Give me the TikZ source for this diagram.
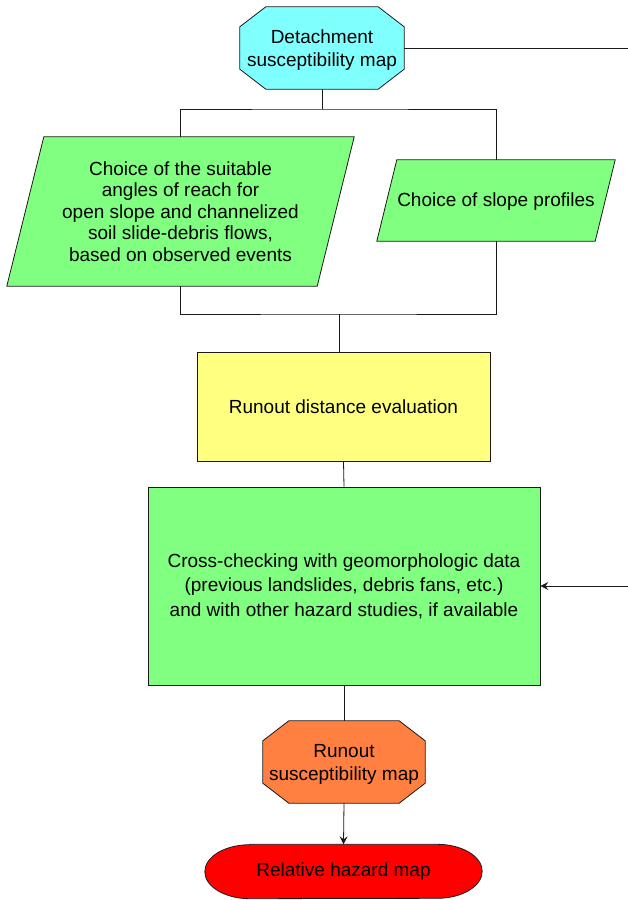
\documentclass[tikz,border=0pt]{standalone}
\usepackage{fontspec}
\setmainfont{Liberation Sans}
\usetikzlibrary{arrows.meta,backgrounds}
\definecolor{cyanbox}{HTML}{80FFFF}
\definecolor{greenbox}{HTML}{80FF80}
\definecolor{yellowbox}{HTML}{FFFF80}
\definecolor{orangebox}{HTML}{FF8040}
\definecolor{redbox}{HTML}{FF0000}
\definecolor{edge}{HTML}{1A1A1A}
\newcommand\octoshape[2]{%
 \draw[base,fill=#2] ([xshift=26pt]#1.north west) -- ([xshift=-26pt]#1.north east) -- ([yshift=-20pt]#1.north east) -- ([yshift=20pt]#1.south east) -- ([xshift=-26pt]#1.south east) -- ([xshift=26pt]#1.south west) -- ([yshift=20pt]#1.south west) -- ([yshift=-20pt]#1.north west) -- cycle;}
\newcommand\parashape[2]{%
 \draw[base,fill=greenbox] (#1.south west) -- ([xshift=#2]#1.north west) -- (#1.north east) -- ([xshift=-#2]#1.south east) -- cycle;}
\newcommand\lowtext[2]{\raisebox{-#1}[\height][\depth]{\begin{tabular}{@{}c@{}}#2\end{tabular}}}
\begin{document}
\begin{tikzpicture}[x=1pt,y=-1pt,
 every node/.style={font=\fontsize{19}{23}\selectfont, align=center, inner sep=0pt, text=black},
 base/.style={draw=edge, line width=0.8pt},
 holder/.style={rectangle, draw=none},
 boxx/.style={base, rectangle},
 conn/.style={draw=edge, line width=0.8pt},
 arr/.style={conn, -{Stealth[length=8pt,width=8pt,inset=3pt]}}]
\useasboundingbox (0,0) rectangle (627,900);
\node[holder, minimum width=164pt, minimum height=82pt] (det) at (322,48) {\lowtext{2.5pt}{Detachment\\susceptibility map}};
\node[holder, minimum width=347pt, minimum height=149pt, font=\fontsize{19}{21.5}\selectfont] (p1) at (180.5,211.5) {Choice of the suitable\\angles of reach for\\open slope and channelized\\soil slide-debris flows,\\based on observed events};
\node[holder, minimum width=238pt, minimum height=81pt] (p2) at (496,200.5) {\lowtext{1.5pt}{Choice of slope profiles}};
\node[boxx, fill=yellowbox, minimum width=293pt, minimum height=109pt] (run) at (343.5,406.5) {Runout distance evaluation};
\node[boxx, fill=greenbox, minimum width=392pt, minimum height=198pt, font=\fontsize{19}{24.5}\selectfont] (chk) at (344,586) {\lowtext{1pt}{Cross-checking with geomorphologic data\\(previous landslides, debris fans, etc.)\\and with other hazard studies, if available}};
\node[holder, minimum width=162pt, minimum height=82pt] (rmap) at (344,762) {\lowtext{2.5pt}{Runout\\susceptibility map}};
\node[holder, minimum width=277pt, minimum height=54pt] (haz) at (343.5,871.5) {Relative hazard map};
\begin{scope}[on background layer]
\octoshape{det}{cyanbox}
\octoshape{rmap}{orangebox}
\parashape{p1}{37pt}
\parashape{p2}{20pt}
\draw[base, fill=redbox] ([xshift=45pt]haz.north west) -- ([xshift=-45pt]haz.north east) arc[start angle=90,end angle=-90,x radius=45pt,y radius=27pt] -- ([xshift=45pt]haz.south west) arc[start angle=270,end angle=90,x radius=45pt,y radius=27pt] -- cycle;
\end{scope}
\coordinate (j1) at (322,109);
\coordinate (j2) at (339,314);
\coordinate (fb) at (632,48);
\draw[conn] (det.south) -- (j1);
\draw[conn] (p1.north) |- (j1) -| (p2.north);
\draw[conn] (p1.south) |- (j2) -| (p2.south);
\draw[conn] (j2) -- (j2 |- run.north);
\draw[conn] (run.south) -- (chk.north);
\draw[conn] (chk.south) -- (rmap.north);
\draw[arr] (rmap.south) -- (haz.north);
\draw[arr] (det.east) -- (fb) |- (chk.east);
\end{tikzpicture}
\end{document}
